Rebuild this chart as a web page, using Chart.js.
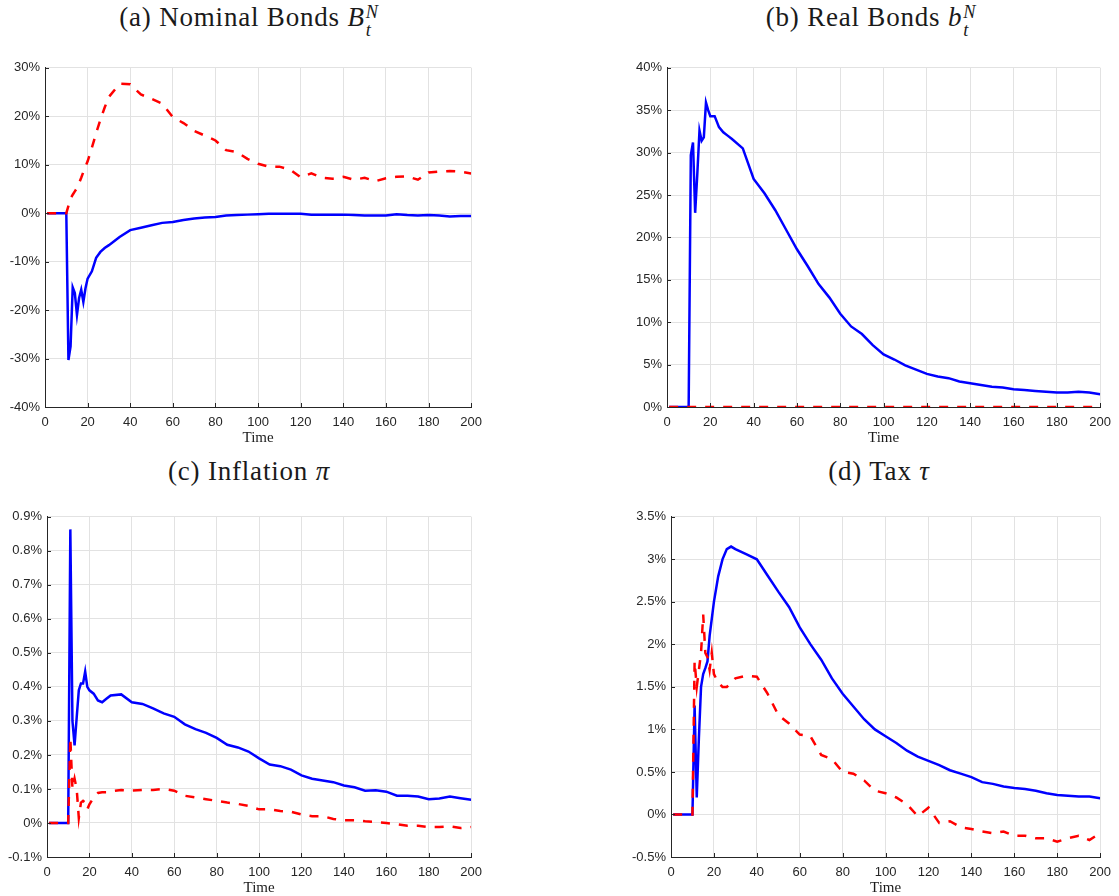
<!DOCTYPE html>
<html>
<head>
<meta charset="utf-8">
<script src="https://cdn.jsdelivr.net/npm/chart.js@4.4.0/dist/chart.umd.min.js"></script>
<style>
body { margin: 0; background: #fff; overflow: hidden; width: 1119px; height: 896px; position: relative; }
canvas { position: absolute; }
.ttl { position: absolute; transform: translate(-50%, -50%); font-family: "Liberation Serif", serif; font-size: 27px; letter-spacing: 0.8px; color: #1a1a1a; white-space: nowrap; }
.m { font-style: italic; }
.ss { display: inline-flex; flex-direction: column; font-size: 0.68em; line-height: 0.95; vertical-align: 0.42em; font-style: italic; margin-left: 1px; }
</style>
</head>
<body>
<div class="ttl" style="left:249px; top:21px;">(a) Nominal Bonds <span class="m">B</span><span class="ss"><span>N</span><span>t</span></span></div>
<div class="ttl" style="left:871px; top:21px;">(b) Real Bonds <span class="m">b</span><span class="ss"><span>N</span><span>t</span></span></div>
<div class="ttl" style="left:249px; top:471px;">(c) Inflation <span class="m">π</span></div>
<div class="ttl" style="left:879px; top:471px;">(d) Tax <span class="m">τ</span></div>

<canvas id="chartA" width="490" height="400" style="left:0px; top:55px;"></canvas>
<canvas id="chartB" width="499" height="400" style="left:620px; top:55px;"></canvas>
<canvas id="chartC" width="490" height="401" style="left:0px; top:504px;"></canvas>
<canvas id="chartD" width="499" height="401" style="left:620px; top:504px;"></canvas>

<script>
// time periods (dense around the shock at t=10)
const periods = [1, 2, 3, 4, 5, 6, 7, 8, 9, 10,
    11, 12, 13, 14, 15, 16, 17, 18, 19, 20,
    22, 24, 26, 28, 30,
    35, 40, 45, 50, 55, 60, 65, 70, 75, 80,
    85, 90, 95, 100, 105, 110, 115, 120, 125, 130,
    135, 140, 145, 150, 155, 160, 165, 170, 175, 180,
    185, 190, 195, 200];

// (a) nominal bonds, %
const nominalBlue = [0, 0, 0, 0, 0, 0, 0, 0, 0, 0,
    -30.3, -27.5, -15.3, -16.5, -21.0, -17.5, -15.8, -18.3, -15.5, -13.5,
    -12.0, -9.2, -8.0, -7.2, -6.6,
    -4.9, -3.5, -3.0, -2.5, -2.0, -1.8, -1.4, -1.1, -0.9, -0.8,
    -0.5, -0.4, -0.3, -0.2, -0.1, -0.1, -0.1, -0.1, -0.3, -0.3,
    -0.3, -0.3, -0.4, -0.5, -0.5, -0.5, -0.2, -0.4, -0.5, -0.4,
    -0.5, -0.7, -0.6, -0.6];
const nominalRed = [0, 0, 0, 0, 0, 0, 0, 0, 0, 0,
    1.5, 3.0, 3.8, 4.5, 5.2, 6.2, 7.3, 8.5, 9.6, 10.7,
    13.5, 16.5, 19.3, 21.8, 24.0,
    26.7, 26.6, 24.5, 23.6, 22.6, 19.8, 18.6, 17.0, 16.0, 15.0,
    13.0, 12.6, 11.2, 10.2, 9.6, 9.6, 9.0, 7.4, 8.2, 7.3,
    7.1, 7.5, 6.9, 7.3, 6.6, 7.2, 7.5, 7.6, 6.9, 8.4,
    8.6, 8.7, 8.6, 8.2];

// (b) real bonds, %
const realBlue = [0, 0, 0, 0, 0, 0, 0, 0, 0, 0,
    29.7, 31.2, 22.9, 27.5, 32.6, 31.4, 31.8, 35.9, 35.0, 34.3,
    34.3, 33.0, 32.4, 32.0, 31.6,
    30.5, 26.9, 25.2, 23.2, 20.9, 18.6, 16.6, 14.5, 12.9, 11.0,
    9.5, 8.6, 7.3, 6.2, 5.6, 4.9, 4.4, 3.9, 3.6, 3.4,
    3.0, 2.8, 2.6, 2.4, 2.3, 2.1, 2.0, 1.9, 1.8, 1.7,
    1.7, 1.8, 1.7, 1.5];
const realRed = [0, 0, 0, 0, 0, 0, 0, 0, 0, 0,
    0, 0, 0, 0, 0, 0, 0, 0, 0, 0,
    0, 0, 0, 0, 0,
    0, 0, 0, 0, 0, 0, 0, 0, 0, 0,
    0, 0, 0, 0, 0, 0, 0, 0, 0, 0,
    0, 0, 0, 0, 0, 0, 0, 0, 0, 0,
    0, 0, 0, 0];

// (c) inflation, %
const inflationBlue = [0, 0, 0, 0, 0, 0, 0, 0, 0, 0,
    0.863, 0.30, 0.228, 0.31, 0.39, 0.41, 0.41, 0.445, 0.40, 0.39,
    0.38, 0.36, 0.355, 0.365, 0.375,
    0.378, 0.355, 0.35, 0.337, 0.322, 0.312, 0.29, 0.276, 0.265, 0.25,
    0.23, 0.222, 0.21, 0.19, 0.172, 0.167, 0.157, 0.14, 0.13, 0.125,
    0.12, 0.11, 0.105, 0.095, 0.096, 0.092, 0.08, 0.08, 0.078, 0.07,
    0.072, 0.078, 0.073, 0.068];
const inflationRed = [0, 0, 0, 0, 0, 0, 0, 0, 0, 0,
    0.25, 0.10, 0.13, 0.10, 0.015, 0.06, 0.065, 0.06, 0.04, 0.055,
    0.075, 0.088, 0.09, 0.09, 0.093,
    0.097, 0.095, 0.097, 0.097, 0.1, 0.095, 0.08, 0.075, 0.07, 0.065,
    0.06, 0.056, 0.05, 0.04, 0.04, 0.035, 0.033, 0.025, 0.02, 0.02,
    0.012, 0.008, 0.008, 0.005, 0.003, 0.0, -0.004, -0.008, -0.008, -0.012,
    -0.012, -0.01, -0.015, -0.012];

// (d) tax, %
const taxBlue = [0, 0, 0, 0, 0, 0, 0, 0, 0, 0,
    1.28, 0.2, 0.9, 1.5, 1.65, 1.72, 1.8, 2.1, 2.3, 2.5,
    2.8, 3.0, 3.12, 3.15, 3.12,
    3.06, 3.0, 2.81, 2.62, 2.44, 2.2, 2.0, 1.82, 1.6, 1.42,
    1.27, 1.12, 1.0, 0.92, 0.84, 0.75, 0.68, 0.63, 0.58, 0.52,
    0.48, 0.44, 0.38, 0.36, 0.33, 0.31, 0.3, 0.28, 0.25, 0.23,
    0.22, 0.21, 0.21, 0.19];
const taxRed = [0, 0, 0, 0, 0, 0, 0, 0, 0, 0,
    1.8, 1.5, 1.7, 1.9, 2.35, 1.9, 1.85, 1.7, 1.9, 1.65,
    1.55, 1.5, 1.5, 1.55, 1.6,
    1.63, 1.62, 1.42, 1.17, 1.07, 0.94, 0.92, 0.7, 0.65, 0.5,
    0.48, 0.4, 0.28, 0.25, 0.2, 0.12, -0.02, 0.08, -0.1, -0.08,
    -0.15, -0.17, -0.2, -0.22, -0.2, -0.25, -0.25, -0.28, -0.28, -0.32,
    -0.28, -0.25, -0.3, -0.22];

const axisColor = '#262626';
const gridColor = '#e2e2e2';

function pct(v) {
    return Number(v.toFixed(2)) + '%';
}

// matlab style short ticks pointing into the plot
const inwardTicks = {
    id: 'inwardTicks',
    afterDraw(chart) {
        const ctx = chart.ctx;
        const area = chart.chartArea;
        const xs = chart.scales.x;
        const ys = chart.scales.y;
        ctx.save();
        ctx.strokeStyle = axisColor;
        ctx.lineWidth = 1;
        ctx.beginPath();
        xs.ticks.forEach(t => {
            const px = Math.round(xs.getPixelForValue(t.value)) + 0.5;
            ctx.moveTo(px, area.bottom);
            ctx.lineTo(px, area.bottom - 4);
        });
        ys.ticks.forEach(t => {
            const py = Math.round(ys.getPixelForValue(t.value)) + 0.5;
            ctx.moveTo(area.left, py);
            ctx.lineTo(area.left + 4, py);
        });
        ctx.stroke();
        ctx.restore();
    }
};

function makePanel(id, blue, red, yMin, yMax, yStep, yWidth, padRight) {
    const ctx = document.getElementById(id);
    return new Chart(ctx, {
        type: 'line',
        data: {
            datasets: [
                {
                    data: periods.map((t, i) => ({ x: t, y: red[i] })),
                    borderColor: '#ff0000',
                    borderWidth: 2.5,
                    borderDash: [9, 9],
                    pointRadius: 0,
                    tension: 0,
                    order: 0
                },
                {
                    data: periods.map((t, i) => ({ x: t, y: blue[i] })),
                    borderColor: '#0000ff',
                    borderWidth: 2.5,
                    pointRadius: 0,
                    tension: 0,
                    order: 1
                }
            ]
        },
        options: {
            responsive: false,
            animation: false,
            devicePixelRatio: 1,
            layout: {
                autoPadding: false,
                padding: { top: 10, right: padRight, left: 0, bottom: 0 }
            },
            plugins: {
                legend: { display: false },
                tooltip: { enabled: false }
            },
            scales: {
                x: {
                    type: 'linear',
                    min: 0,
                    max: 200,
                    afterFit: s => { s.height = 48; },
                    ticks: {
                        stepSize: 20,
                        padding: 8,
                        maxRotation: 0,
                        color: axisColor,
                        font: { family: 'Liberation Sans', size: 13 }
                    },
                    grid: { color: gridColor, drawTicks: false },
                    border: { display: true, color: axisColor, width: 1 },
                    title: {
                        display: true,
                        text: 'Time',
                        color: '#1a1a1a',
                        padding: { top: 0, bottom: 8 },
                        font: { family: 'Liberation Serif', size: 15 }
                    }
                },
                y: {
                    min: yMin,
                    max: yMax,
                    afterFit: s => { s.width = yWidth; },
                    ticks: {
                        stepSize: yStep,
                        padding: 5,
                        color: axisColor,
                        font: { family: 'Liberation Sans', size: 13 },
                        callback: v => pct(v)
                    },
                    grid: { color: gridColor, drawTicks: false },
                    border: { display: true, color: axisColor, width: 1 }
                }
            }
        },
        plugins: [inwardTicks]
    });
}

makePanel('chartA', nominalBlue, nominalRed, -40, 30, 10, 45, 11);
makePanel('chartB', realBlue, realRed, 0, 40, 5, 47, 18);
makePanel('chartC', inflationBlue, inflationRed, -0.1, 0.9, 0.1, 47, 9);
makePanel('chartD', taxBlue, taxRed, -0.5, 3.5, 0.5, 51, 14);
</script>
</body>
</html>
